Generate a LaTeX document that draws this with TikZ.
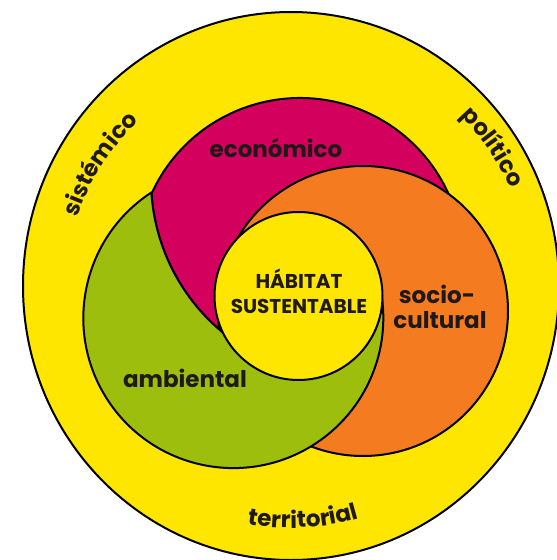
\documentclass[tikz,border=0pt]{standalone}
\usepackage{fontspec}
\setmainfont{Poppins}
\usetikzlibrary{calc,decorations.text}
\definecolor{yel}{HTML}{FFE600}
\definecolor{mag}{HTML}{D4005E}
\definecolor{ora}{HTML}{F47B20}
\definecolor{grn}{HTML}{9DBE0D}
\definecolor{ink}{HTML}{1F1A17}
\newcommand\lblfont{\fontsize{23}{25}\selectfont\bfseries}
\begin{document}
\begin{tikzpicture}[x=1pt,y=-1pt, line join=round,
  outline/.style={draw=black, line width=2pt},
  lbl/.style={font=\lblfont, text=ink, inner sep=0pt},
  ctr/.style={font=\fontsize{20}{25}\selectfont\bfseries, text=ink, inner sep=0pt},
  arctext/.style={decorate, decoration={text along path, text align=center, text color=ink, text={|\lblfont|#1}}}]
\useasboundingbox (0,0) rectangle (557,560);
\fill[white] (0,0) rectangle (557,560);
\clip (0,0) rectangle (557,560);
% centres
\coordinate (cY) at (291,286);
\coordinate (cM) at (300,261);
\coordinate (cO) at (363,311);
\coordinate (cG) at (234,318);
\coordinate (cB) at (349,180);
\coordinate (cI) at (298.5,296);
\coordinate (Q) at ($(cB)+(129:198)$);
% outer ring
\draw[outline, fill=yel] (cY) ellipse[x radius=268, y radius=274];
% magenta
\draw[outline, fill=mag] ($(cM)+(-155.1:163)$) arc[start angle=-155.1, end angle=-20, radius=163]
  -- (cI) -- (Q) arc[start angle=129, end angle=176.4, radius=198] -- cycle;
% orange
\draw[outline, fill=ora] (cO) circle[radius=145];
% green
\draw[outline, fill=grn] (Q) arc[start angle=129, end angle=176.4, radius=198]
  arc[start angle=236.9, end angle=-8, radius=150] -- (cI) -- cycle;
% centre
\draw[outline, fill=yel] (cI) circle[radius=84];
% labels
\node[lbl] (eco) at (276,148) {económico};
\node[lbl, anchor=base] (soc1) at (437,303) {socio-};
\node[lbl, anchor=base] (soc2) at (440,328) {cultural};
\node[lbl, anchor=base] (amb) at (185,387) {ambiental};
\node[ctr, anchor=base] (hab1) at (299,288) {HÁBITAT};
\node[ctr, anchor=base] (hab2) at (299,313) {SUSTENTABLE};
% outer curved labels
\path[arctext=sistémico] ($(cY)+(180:224)$) arc[start angle=180, end angle=245, radius=224];
\path[arctext=político] ($(cY)+(295:240)$) arc[start angle=295, end angle=356, radius=240];
\path[arctext=territorial] ($(cY)+(117:242)$) arc[start angle=117, end angle=57, radius=242];
\end{tikzpicture}
\end{document}
